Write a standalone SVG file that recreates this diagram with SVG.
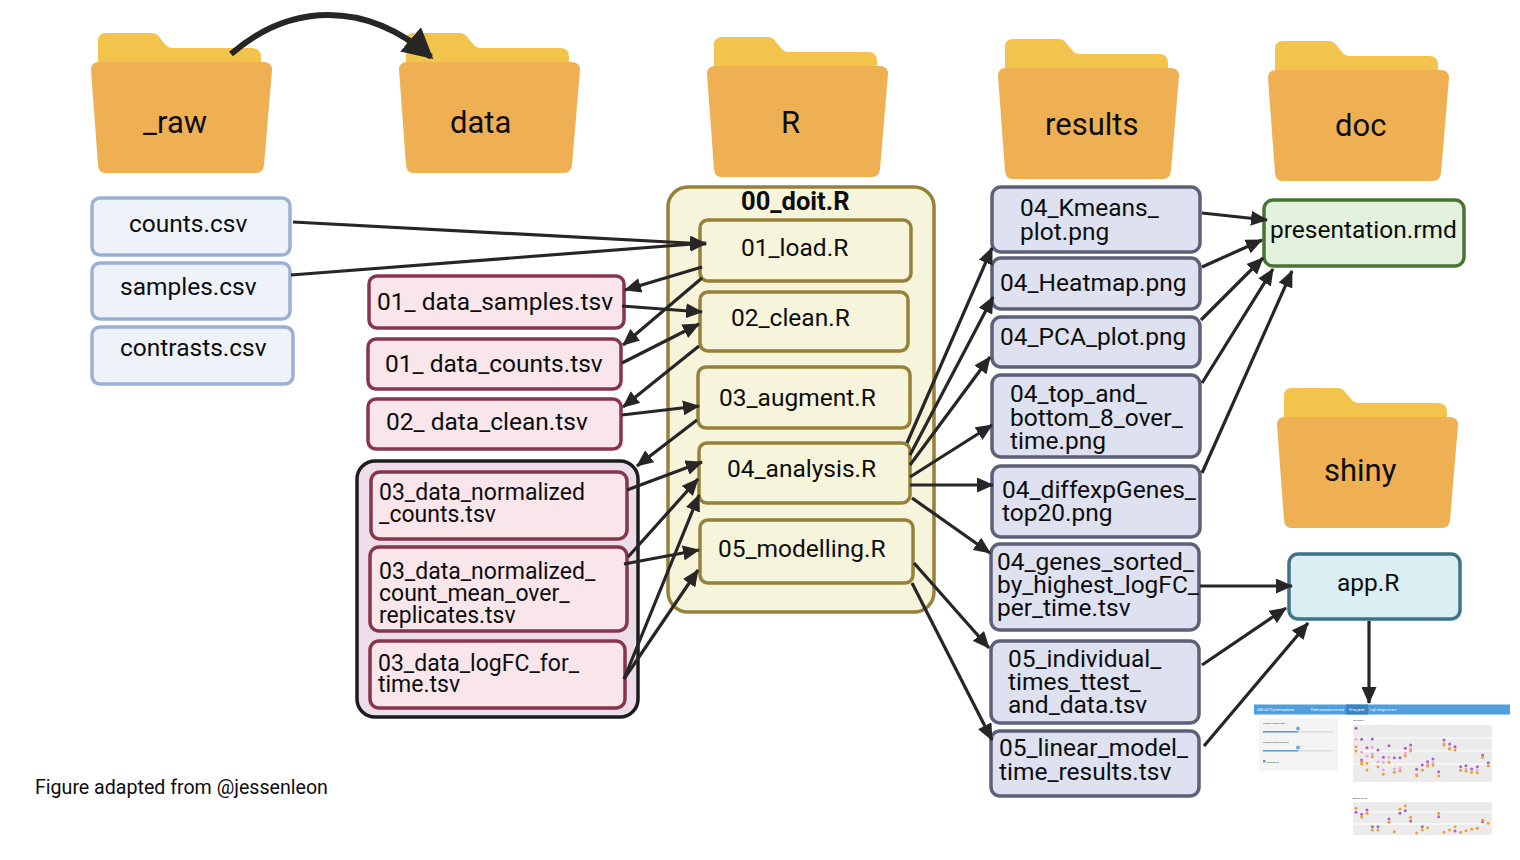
<svg xmlns="http://www.w3.org/2000/svg" width="1520" height="860" viewBox="0 0 1520 860">
<style>
text{font-family:Roboto,"Liberation Sans",sans-serif;fill:#0d0d0d}
.t{font-size:24.500px}
.n{font-size:23px}
.f{font-size:31px}
.box{stroke-width:3.500}
.blue{fill:#eef3fa;stroke:#9cb0d6}
.red{fill:#f8e6ea;stroke:#86354d}
.yel{fill:#f6f4da;stroke:#97803a}
.pur{fill:#dde1f0;stroke:#5c6079}
.grn{fill:#e3f2dc;stroke:#4a7433}
.tea{fill:#dbeef4;stroke:#3f7388}
.conn line{stroke:#262626;stroke-width:3.200;fill:none;marker-end:url(#a)}
.p{fill:#ab62bd}.k{fill:#e9a9da}.o{fill:#ef9f35}
.p circle,.k circle,.o circle{r:4.500px}
.g line{stroke:#fff;stroke-width:1}
.s{font-size:2.600px;fill:#fff}
.q{font-size:2.200px;fill:#333}
</style>
<defs>
<marker id="a" markerUnits="userSpaceOnUse" viewBox="0 0 17 15" markerWidth="17" markerHeight="15" refX="16" refY="7.500" orient="auto"><path d="M0,0L17,7.500L0,15Z" fill="#262626"/></marker>
<marker id="b" markerUnits="userSpaceOnUse" viewBox="0 0 30 32" markerWidth="30" markerHeight="32" refX="27" refY="16" orient="auto"><path d="M0,0L30,16L0,32Z" fill="#262626"/></marker>
<g id="folder">
<path fill="#f3c44c" d="M7,32V8Q7,0 15,0H60Q66,0 69,5L74,11Q77,15 82,15H161Q170,15 170,24V32Z"/>
<path fill="#eeb053" d="M0,37Q0,29 8,29H172Q181,29 181,37L173,132Q172,140 165,140H14Q8,140 7,132Z"/>
</g>
<filter id="bl" x="-5%" y="-5%" width="110%" height="110%"><feGaussianBlur stdDeviation="1.200"/></filter>
</defs>

<g id="node-raw"><use href="#folder" x="91" y="33"/><text class="f" x="143" y="133">_raw</text></g>
<g id="node-data"><use href="#folder" x="399" y="33"/><text class="f" x="450" y="133">data</text></g>
<g id="node-R"><use href="#folder" x="707" y="37"/><text class="f" x="781" y="133">R</text></g>
<g id="node-results"><use href="#folder" x="998" y="39"/><text class="f" x="1045" y="135">results</text></g>
<g id="node-doc"><use href="#folder" x="1268" y="41"/><text class="f" x="1335" y="136">doc</text></g>
<g id="node-shiny"><use href="#folder" x="1277" y="388"/><text class="f" x="1324" y="481">shiny</text></g>

<g id="node-counts"><rect class="box blue" x="92" y="198" width="198" height="57" rx="8"/><text class="t" x="129" y="232">counts.csv</text></g>
<g id="node-samples"><rect class="box blue" x="92" y="263" width="198" height="56" rx="8"/><text class="t" x="120" y="295">samples.csv</text></g>
<g id="node-contrasts"><rect class="box blue" x="92" y="327" width="201" height="57" rx="8"/><text class="t" x="120" y="356">contrasts.csv</text></g>

<g id="node-data-samples"><rect class="box red" x="369" y="276" width="255" height="52" rx="8"/><text class="t" x="377" y="310">01_ data_samples.tsv</text></g>
<g id="node-data-counts"><rect class="box red" x="368" y="339" width="253" height="50" rx="8"/><text class="t" x="385" y="372">01_ data_counts.tsv</text></g>
<g id="node-data-clean"><rect class="box red" x="368" y="399" width="253" height="50" rx="8"/><text class="t" x="386" y="430">02_ data_clean.tsv</text></g>

<g id="node-group03"><rect x="357" y="461" width="281" height="256" rx="18" fill="#eddde8" stroke="#1c1c1c" stroke-width="3.500"/></g>
<g id="node-norm"><rect class="box red" x="371" y="472" width="256" height="67" rx="9"/><text class="n" x="379" y="500">03_data_normalized</text><text class="n" x="379" y="522">_counts.tsv</text></g>
<g id="node-mean"><rect class="box red" x="370" y="547" width="257" height="84" rx="9"/><text class="n" x="379" y="579">03_data_normalized_</text><text class="n" x="379" y="601">count_mean_over_</text><text class="n" x="379" y="623">replicates.tsv</text></g>
<g id="node-logfc"><rect class="box red" x="370" y="641" width="255" height="67" rx="9"/><text class="n" x="378" y="671">03_data_logFC_for_</text><text class="n" x="378" y="692">time.tsv</text></g>

<g id="node-doit"><rect class="box yel" x="668" y="187" width="266" height="425" rx="20"/><text x="741" y="210" font-size="25.500" font-weight="700">00_doit.R</text></g>
<g id="node-load"><rect class="box yel" x="700" y="220" width="211" height="61" rx="8"/><text class="t" x="741" y="256">01_load.R</text></g>
<g id="node-clean"><rect class="box yel" x="700" y="292" width="208" height="59" rx="8"/><text class="t" x="731" y="326">02_clean.R</text></g>
<g id="node-augment"><rect class="box yel" x="698" y="367" width="212" height="61" rx="8"/><text class="t" x="719" y="406">03_augment.R</text></g>
<g id="node-analysis"><rect class="box yel" x="699" y="443" width="211" height="60" rx="8"/><text class="t" x="727" y="477">04_analysis.R</text></g>
<g id="node-modelling"><rect class="box yel" x="700" y="520" width="213" height="63" rx="8"/><text class="t" x="718" y="557">05_modelling.R</text></g>

<g id="node-kmeans"><rect class="box pur" x="992" y="187" width="208" height="65" rx="9"/><text class="t" x="1020" y="216">04_Kmeans_</text><text class="t" x="1020" y="240">plot.png</text></g>
<g id="node-heatmap"><rect class="box pur" x="992" y="258" width="208" height="51" rx="9"/><text class="t" x="1000" y="291">04_Heatmap.png</text></g>
<g id="node-pca"><rect class="box pur" x="992" y="317" width="208" height="50" rx="9"/><text class="t" x="1000" y="345">04_PCA_plot.png</text></g>
<g id="node-top"><rect class="box pur" x="992" y="375" width="208" height="82" rx="9"/><text class="t" x="1010" y="402">04_top_and_</text><text class="t" x="1010" y="426">bottom_8_over_</text><text class="t" x="1010" y="449">time.png</text></g>
<g id="node-diffexp"><rect class="box pur" x="992" y="466" width="208" height="71" rx="9"/><text class="t" x="1002" y="498">04_diffexpGenes_</text><text class="t" x="1002" y="521">top20.png</text></g>
<g id="node-genes"><rect class="box pur" x="991" y="544" width="208" height="86" rx="9"/><text class="t" x="997" y="570">04_genes_sorted_</text><text class="t" x="997" y="593">by_highest_logFC_</text><text class="t" x="997" y="616">per_time.tsv</text></g>
<g id="node-ttest"><rect class="box pur" x="991" y="641" width="208" height="82" rx="9"/><text class="t" x="1008" y="667">05_individual_</text><text class="t" x="1008" y="690">times_ttest_</text><text class="t" x="1008" y="713">and_data.tsv</text></g>
<g id="node-linear"><rect class="box pur" x="991" y="731" width="208" height="65" rx="9"/><text class="t" x="999" y="756">05_linear_model_</text><text class="t" x="999" y="780">time_results.tsv</text></g>

<g id="node-presentation"><rect class="box grn" x="1264" y="200" width="200" height="66" rx="9"/><text class="t" x="1270" y="238">presentation.rmd</text></g>
<g id="node-app"><rect class="box tea" x="1289" y="554" width="171" height="65" rx="9"/><text class="t" x="1337" y="591">app.R</text></g>

<g id="node-screenshot">
<rect x="1254" y="704.500" width="256" height="10" fill="#4f9fdf"/>
<rect x="1346" y="704.500" width="22" height="10" fill="#3a82c0"/>
<text class="s" x="1257" y="710.500">SARS-CoV-19 protein expression</text>
<text class="s" x="1311" y="710.500">Protein expression over time</text>
<text class="s" x="1349" y="710.500">Hit top genes</text>
<text class="s" x="1370" y="710.500">Log2 change over time</text>
<rect x="1259" y="718" width="79" height="53" fill="#f4f4f4"/>
<rect x="1263" y="731" width="70" height="1.500" fill="#dedede"/><rect x="1263" y="731" width="35" height="1.500" fill="#5b9bd5"/><circle cx="1298" cy="728.500" r="2" fill="#6fa8dc"/>
<rect x="1263" y="750" width="70" height="1.500" fill="#dedede"/><rect x="1263" y="750" width="35" height="1.500" fill="#5b9bd5"/><circle cx="1298" cy="747.500" r="2" fill="#6fa8dc"/>
<rect x="1263" y="760" width="2.500" height="2.500" fill="#5b9bd5"/>
<text class="q" x="1263" y="724">Number of genes (top)</text>
<text class="q" x="1263" y="743">Number of genes (bottom)</text>
<text class="q" x="1267" y="762.500">Facet ability</text>
<text class="q" x="1353" y="721">Top Genes</text>
<text class="q" x="1353" y="799">Bottom Genes</text>
<rect x="1353" y="725" width="139" height="57" fill="#ebebeb"/>
<rect x="1353" y="802" width="139" height="33" fill="#ebebeb"/>
<g class="g"><line x1="1353" x2="1492" y1="738" y2="738"/><line x1="1353" x2="1492" y1="751" y2="751"/><line x1="1353" x2="1492" y1="764" y2="764"/><line x1="1353" x2="1492" y1="812" y2="812"/><line x1="1353" x2="1492" y1="824" y2="824"/></g>
<g transform="translate(1240 695) scale(.3333)" filter="url(#bl)">
<g class="p"><circle cx="348" cy="100"/><circle cx="365" cy="133"/><circle cx="365" cy="195"/><circle cx="381" cy="158"/><circle cx="397" cy="132"/><circle cx="414" cy="165"/><circle cx="430" cy="187"/><circle cx="447" cy="152"/><circle cx="463" cy="188"/><circle cx="480" cy="188"/><circle cx="496" cy="160"/><circle cx="512" cy="150"/><circle cx="530" cy="223"/><circle cx="547" cy="210"/><circle cx="563" cy="200"/><circle cx="579" cy="192"/><circle cx="596" cy="230"/><circle cx="612" cy="135"/><circle cx="629" cy="147"/><circle cx="645" cy="155"/><circle cx="662" cy="215"/><circle cx="678" cy="212"/><circle cx="695" cy="222"/><circle cx="712" cy="215"/><circle cx="728" cy="180"/><circle cx="745" cy="203"/>
<circle cx="348" cy="352"/><circle cx="365" cy="358"/><circle cx="381" cy="345"/><circle cx="397" cy="395"/><circle cx="414" cy="395"/><circle cx="447" cy="372"/><circle cx="480" cy="355"/><circle cx="496" cy="347"/><circle cx="512" cy="378"/><circle cx="547" cy="395"/><circle cx="596" cy="365"/><circle cx="645" cy="408"/><circle cx="728" cy="380"/></g>
<g class="k"><circle cx="348" cy="132"/><circle cx="365" cy="172"/><circle cx="381" cy="183"/><circle cx="397" cy="157"/><circle cx="397" cy="178"/><circle cx="414" cy="200"/><circle cx="430" cy="202"/><circle cx="430" cy="225"/><circle cx="447" cy="187"/><circle cx="463" cy="222"/><circle cx="480" cy="220"/><circle cx="496" cy="175"/><circle cx="512" cy="162"/><circle cx="530" cy="238"/><circle cx="563" cy="208"/><circle cx="579" cy="203"/><circle cx="612" cy="145"/><circle cx="629" cy="158"/><circle cx="678" cy="222"/><circle cx="712" cy="226"/></g>
<g class="o"><circle cx="348" cy="155"/><circle cx="348" cy="168"/><circle cx="365" cy="200"/><circle cx="365" cy="207"/><circle cx="381" cy="205"/><circle cx="381" cy="225"/><circle cx="397" cy="185"/><circle cx="414" cy="215"/><circle cx="430" cy="238"/><circle cx="447" cy="202"/><circle cx="463" cy="232"/><circle cx="480" cy="228"/><circle cx="496" cy="182"/><circle cx="512" cy="168"/><circle cx="530" cy="242"/><circle cx="547" cy="226"/><circle cx="563" cy="213"/><circle cx="579" cy="210"/><circle cx="596" cy="243"/><circle cx="612" cy="150"/><circle cx="629" cy="163"/><circle cx="645" cy="165"/><circle cx="662" cy="226"/><circle cx="678" cy="228"/><circle cx="695" cy="232"/><circle cx="712" cy="233"/><circle cx="728" cy="187"/><circle cx="745" cy="212"/>
<circle cx="348" cy="340"/><circle cx="365" cy="366"/><circle cx="381" cy="355"/><circle cx="397" cy="405"/><circle cx="414" cy="405"/><circle cx="447" cy="382"/><circle cx="463" cy="410"/><circle cx="480" cy="342"/><circle cx="496" cy="332"/><circle cx="512" cy="367"/><circle cx="530" cy="414"/><circle cx="547" cy="405"/><circle cx="563" cy="398"/><circle cx="596" cy="355"/><circle cx="612" cy="412"/><circle cx="629" cy="405"/><circle cx="645" cy="395"/><circle cx="662" cy="412"/><circle cx="678" cy="407"/><circle cx="695" cy="402"/><circle cx="712" cy="400"/><circle cx="728" cy="375"/><circle cx="745" cy="385"/></g>
</g>
</g>

<g id="connectors" class="conn">
<path d="M231,54C290,3 365,0 431,57" fill="none" stroke="#262626" stroke-width="6" marker-end="url(#b)"/>
<line x1="293" y1="222" x2="706" y2="244"/>
<line x1="291" y1="275" x2="706" y2="243"/>
<line x1="702" y1="267" x2="625" y2="290"/>
<line x1="702" y1="278" x2="623" y2="345"/>
<line x1="622" y1="306" x2="702" y2="312"/>
<line x1="622" y1="363" x2="699" y2="324"/>
<line x1="699" y1="346" x2="623" y2="407"/>
<line x1="622" y1="415" x2="699" y2="406"/>
<line x1="697" y1="420" x2="637" y2="466"/>
<line x1="627" y1="490" x2="702" y2="462"/>
<line x1="628" y1="557" x2="698" y2="479"/>
<line x1="624" y1="564" x2="699" y2="550"/>
<line x1="624" y1="679" x2="699" y2="495"/>
<line x1="624" y1="679" x2="698" y2="570"/>
<line x1="907" y1="443" x2="992" y2="248"/>
<line x1="910" y1="455" x2="993" y2="297"/>
<line x1="910" y1="465" x2="990" y2="357"/>
<line x1="910" y1="477" x2="992" y2="425"/>
<line x1="910" y1="485" x2="993" y2="485"/>
<line x1="912" y1="498" x2="990" y2="553"/>
<line x1="914" y1="563" x2="989" y2="648"/>
<line x1="912" y1="583" x2="992" y2="740"/>
<line x1="1202" y1="213" x2="1267" y2="220"/>
<line x1="1202" y1="267" x2="1262" y2="240"/>
<line x1="1201" y1="320" x2="1263" y2="258"/>
<line x1="1202" y1="383" x2="1273" y2="269"/>
<line x1="1202" y1="473" x2="1292" y2="271"/>
<line x1="1200" y1="586" x2="1292" y2="586"/>
<line x1="1202" y1="665" x2="1286" y2="608"/>
<line x1="1204" y1="746" x2="1308" y2="623"/>
<line x1="1369" y1="621" x2="1369" y2="703"/>
</g>

<text x="35" y="794" font-size="19.600">Figure adapted from @jessenleon</text>
</svg>
